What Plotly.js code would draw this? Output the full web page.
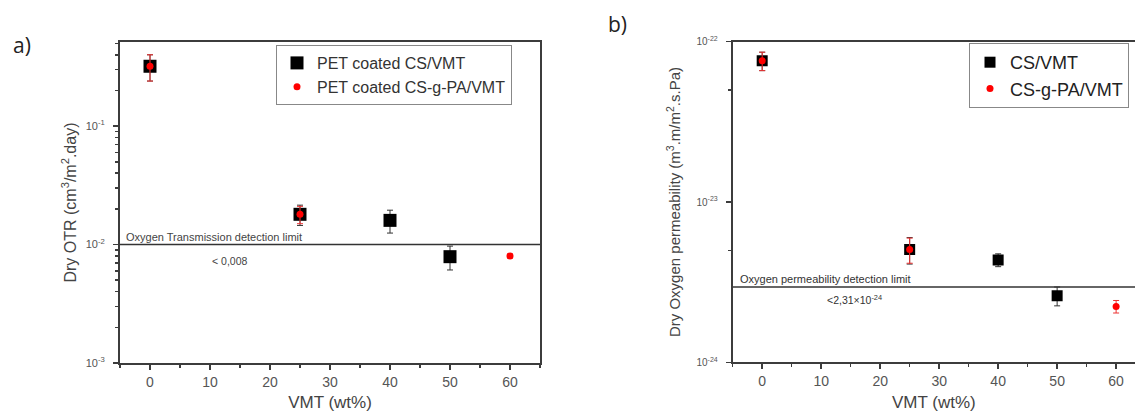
<!DOCTYPE html>
<html>
<head>
<meta charset="utf-8">
<script src="https://cdn.plot.ly/plotly-3.0.1.min.js"></script>
<style>
  html, body { margin: 0; padding: 0; background: #fff; }
  #chart { width: 1135px; height: 412px; }
</style>
</head>
<body>
<div id="chart"></div>
<script>
// VMT loadings (wt%)
const vmtCS = [0, 25, 40, 50];
const vmtCSgPA = [0, 25, 60];

// a) Dry oxygen transmission rate (cm3/m2.day)
const otrCS = [0.32, 0.018, 0.016, 0.0079];
const otrCSErr = [0.08, 0.0035, 0.0035, 0.0018];
const otrCSgPA = [0.32, 0.018, 0.008];
const otrCSgPAErr = [0.08, 0.003, 0.0003];
const otrLimit = 0.01;

// b) Dry oxygen permeability (m3.m/m2.s.Pa)
const permCS = [7.6e-23, 5.05e-24, 4.35e-24, 2.6e-24];
const permCSErr = [1.0e-23, 0.95e-24, 0.4e-24, 0.35e-24];
const permCSgPA = [7.6e-23, 5.05e-24, 2.23e-24];
const permCSgPAErr = [1.0e-23, 0.9e-24, 0.2e-24];
const permLimit = 2.95e-24;

// axis ticks
const xTicks = [0, 10, 20, 30, 40, 50, 60];
const xMinor = [-5, 5, 15, 25, 35, 45, 55, 65];
const yTicksA = [1e-3, 1e-2, 1e-1];
const yTickTextA = ['10<sup>-3</sup>', '10<sup>-2</sup>', '10<sup>-1</sup>'];
const yTicksB = [1e-24, 1e-23, 1e-22];
const yTickTextB = ['10<sup>-24</sup>', '10<sup>-23</sup>', '10<sup>-22</sup>'];

const FONT = 'Liberation Sans, Arial, sans-serif';
const AXIS = '#3c3c3c';

const minorA = [];
[1e-3, 1e-2, 1e-1].forEach(d => { for (let k = 2; k <= 9; k++) if (k * d < 0.52) minorA.push(k * d); });
const minorB = [5e-24, 5e-23];

const xRangeA = [-5, 65];
const xRangeB = [-5, 63.2];

const traces = [
  // panel a
  { x: xRangeA, y: [otrLimit, otrLimit], xaxis: 'x', yaxis: 'y', mode: 'lines',
    line: { color: '#333', width: 1.5 }, showlegend: false, hoverinfo: 'skip' },
  { x: vmtCS, y: otrCS, xaxis: 'x', yaxis: 'y', mode: 'markers', name: 'PET coated CS/VMT',
    legend: 'legend',
    marker: { symbol: 'square', size: 13, color: '#000' },
    error_y: { type: 'data', array: otrCSErr, color: '#333', thickness: 1, width: 3 } },
  { x: vmtCSgPA, y: otrCSgPA, xaxis: 'x', yaxis: 'y', mode: 'markers', name: 'PET coated CS-g-PA/VMT',
    legend: 'legend',
    marker: { symbol: 'circle', size: 7, color: '#ff0000' },
    error_y: { type: 'data', array: otrCSgPAErr, color: '#ee3333', thickness: 1, width: 3 } },
  // panel b
  { x: xRangeB, y: [permLimit, permLimit], xaxis: 'x2', yaxis: 'y2', mode: 'lines',
    line: { color: '#333', width: 1.5 }, showlegend: false, hoverinfo: 'skip' },
  { x: vmtCS, y: permCS, xaxis: 'x2', yaxis: 'y2', mode: 'markers', name: 'CS/VMT',
    legend: 'legend2',
    marker: { symbol: 'square', size: 11, color: '#000' },
    error_y: { type: 'data', array: permCSErr, color: '#333', thickness: 1, width: 3 } },
  { x: vmtCSgPA, y: permCSgPA, xaxis: 'x2', yaxis: 'y2', mode: 'markers', name: 'CS-g-PA/VMT',
    legend: 'legend2',
    marker: { symbol: 'circle', size: 7, color: '#ff0000' },
    error_y: { type: 'data', array: permCSgPAErr, color: '#ee3333', thickness: 1, width: 3 } }
];

function xAxis(domain, range, anchor) {
  return {
    domain: domain, range: range, anchor: anchor,
    tickmode: 'array', tickvals: xTicks,
    ticks: 'outside', ticklen: 5, tickwidth: 1.5, tickcolor: AXIS,
    minor: { tickmode: 'array', tickvals: xMinor, ticks: 'outside', ticklen: 3, tickwidth: 1.5, tickcolor: AXIS, showgrid: false },
    showline: true, linecolor: AXIS, linewidth: 2, mirror: true,
    showgrid: false, zeroline: false,
    tickfont: { family: FONT, size: 14, color: '#555' },
    title: { text: 'VMT (wt%)', font: { family: FONT, size: 17, color: '#444' }, standoff: 9 }
  };
}

function yAxis(domain, range, anchor, vals, text, minorVals, title, mirror, tsize, titleSize, standoff) {
  return {
    domain: domain, type: 'log', range: range, anchor: anchor,
    tickmode: 'array', tickvals: vals, ticktext: text,
    ticks: 'outside', ticklen: 5, tickwidth: 1.5, tickcolor: AXIS,
    ticklabelstandoff: 6,
    minor: { tickmode: 'array', tickvals: minorVals, ticks: 'outside', ticklen: 3, tickwidth: 1.5, tickcolor: AXIS, showgrid: false },
    showline: true, linecolor: AXIS, linewidth: 2, mirror: mirror,
    showgrid: false, zeroline: false,
    tickfont: { family: FONT, size: tsize, color: '#555' },
    title: { text: title, font: { family: FONT, size: titleSize, color: '#444' }, standoff: standoff }
  };
}

const layout = {
  width: 1135, height: 412,
  margin: { l: 0, r: 0, t: 0, b: 0, autoexpand: false },
  paper_bgcolor: '#fff', plot_bgcolor: '#fff',
  font: { family: FONT, color: '#333' },
  xaxis: xAxis([120 / 1135, 540 / 1135], xRangeA, 'y'),
  yaxis: yAxis([1 - 363 / 412, 1 - 42 / 412], [-3, -0.29], 'x', yTicksA, yTickTextA, minorA,
    'Dry OTR (cm<sup>3</sup>/m<sup>2</sup>.day)', true, 11, 16, 5),
  xaxis2: xAxis([732.7 / 1135, 1], xRangeB, 'y2'),
  yaxis2: yAxis([1 - 362.3 / 412, 1 - 41.7 / 412], [-24, -22], 'x2', yTicksB, yTickTextB, minorB,
    'Dry Oxygen permeability (m<sup>3</sup>.m/m<sup>2</sup>.s.Pa)', false, 10, 15, 12),
  legend: {
    x: 276 / 1135, y: 1 - 45 / 412, xanchor: 'left', yanchor: 'top',
    bgcolor: '#fff', bordercolor: '#888', borderwidth: 1,
    font: { family: FONT, size: 16, color: '#333' }, tracegroupgap: 0
  },
  legend2: {
    x: 969 / 1135, y: 1 - 43 / 412, xanchor: 'left', yanchor: 'top',
    bgcolor: '#fff', bordercolor: '#888', borderwidth: 1,
    font: { family: FONT, size: 18, color: '#222' }, tracegroupgap: 0
  },
  annotations: [
    { text: 'a)', xref: 'paper', yref: 'paper', x: 22 / 1135, y: 1 - 45 / 412,
      xanchor: 'center', yanchor: 'middle',
      showarrow: false, font: { family: 'Open Sans, sans-serif', size: 21, color: '#222' } },
    { text: 'b)', xref: 'paper', yref: 'paper', x: 617 / 1135, y: 1 - 24 / 412,
      xanchor: 'center', yanchor: 'middle',
      showarrow: false, font: { family: 'Open Sans, sans-serif', size: 21, color: '#222' } },
    { text: 'Oxygen Transmission detection limit', xref: 'x', yref: 'y', x: -4.3, y: Math.log10(otrLimit),
      xanchor: 'left', yanchor: 'bottom', yshift: 0, showarrow: false,
      font: { family: FONT, size: 11, color: '#444' } },
    { text: '< 0,008', xref: 'x', yref: 'y', x: 13.2, y: Math.log10(otrLimit),
      xanchor: 'center', yanchor: 'top', yshift: -8, showarrow: false,
      font: { family: FONT, size: 10.5, color: '#444' } },
    { text: 'Oxygen permeability detection limit', xref: 'x2', yref: 'y2', x: -4.1, y: Math.log10(permLimit),
      xanchor: 'left', yanchor: 'bottom', yshift: 0, showarrow: false,
      font: { family: FONT, size: 11, color: '#333' } },
    { text: '<2,31×10<sup>-24</sup>', xref: 'x2', yref: 'y2', x: 10.6, y: Math.log10(permLimit),
      xanchor: 'left', yanchor: 'top', yshift: -4, showarrow: false,
      font: { family: FONT, size: 10.5, color: '#333' } }
  ]
};

Plotly.newPlot('chart', traces, layout, { displayModeBar: false, staticPlot: true });
</script>
</body>
</html>
